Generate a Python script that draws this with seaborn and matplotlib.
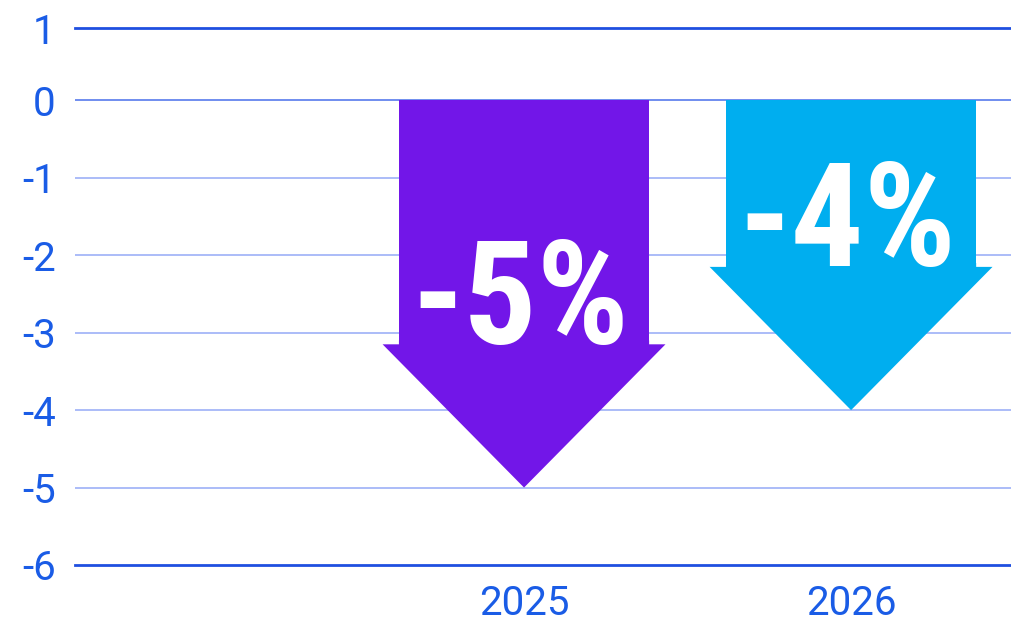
import matplotlib
matplotlib.use("Agg")
import matplotlib.pyplot as plt
from matplotlib import font_manager
import seaborn as sns
import pandas as pd

# ---- data ----
categories = ["2025", "2026"]
values = [-5, -4]
value_labels = ["-5%", "-4%"]
arrow_colors = ["#7216E8", "#00AEEF"]
ytick_values = [-6, -5, -4, -3, -2, -1, 0]
ytick_labels = ["-6", "-5", "-4", "-3", "-2", "-1", "0"]
top_label = "1"

sns.set_theme(style="white")

names = {f.name for f in font_manager.fontManager.ttflist}
big_font = "DejaVu Sans"
for cand in ["Liberation Sans Narrow", "Roboto Condensed", "DejaVu Sans Condensed", "Roboto"]:
    if cand in names:
        big_font = cand
        break
tick_font = "Roboto" if "Roboto" in names else "DejaVu Sans"
plt.rcParams["font.family"] = [tick_font, "DejaVu Sans"]

TICK_COLOR = "#1A5CE6"
FRAME_COLOR = "#1F4FE0"

fig = plt.figure(figsize=(10.11, 6.26), dpi=100)
ax = fig.add_axes([75 / 1011, 1 - 565 / 626, 1 - 75 / 1011, (565 - 28) / 626])

head_len = 1.85
shaft_w = 0.765
head_w = 0.865

df = pd.DataFrame({"year": categories, "shaft": [v + head_len for v in values]})
sns.barplot(data=df, x="year", y="shaft", hue="year", palette=arrow_colors,
            width=shaft_w, legend=False, ax=ax, zorder=3, linewidth=0,
            saturation=1)

for i, (v, c, lab) in enumerate(zip(values, arrow_colors, value_labels)):
    top = v + head_len
    ax.fill([i - head_w / 2, i - shaft_w / 2, i - shaft_w / 2,
             i + shaft_w / 2, i + shaft_w / 2, i + head_w / 2, i],
            [top, top, top + 0.05, top + 0.05, top, top, v],
            color=c, lw=0, zorder=3)
    ax.text(i - 0.01, top + 0.01, lab, ha="center", va="baseline", color="white",
            fontsize=104, fontweight="bold", family=big_font, zorder=4)

ax.set_xlim(-1.373, 1.489)
ytop = 0.935
ax.set_ylim(-6, ytop)

for y in [-5, -4, -3, -2, -1]:
    ax.axhline(y, color="#95AAF6", lw=1.1, zorder=1)
ax.axhline(0, color="#6585EE", lw=1.3, zorder=1)

ax.set_yticks(ytick_values + [ytop])
ax.set_yticklabels(ytick_labels + [top_label])
ax.tick_params(axis="y", length=0, pad=14, labelsize=29, labelcolor=TICK_COLOR)
ax.tick_params(axis="x", length=0, pad=14, labelsize=29, labelcolor=TICK_COLOR)
ax.set_xlabel("")
ax.set_ylabel("")

for s in ["left", "right"]:
    ax.spines[s].set_visible(False)
for s in ["top", "bottom"]:
    ax.spines[s].set_color(FRAME_COLOR)
    ax.spines[s].set_linewidth(2.0)
ax.grid(False)

fig.savefig("out.png", dpi=100)
